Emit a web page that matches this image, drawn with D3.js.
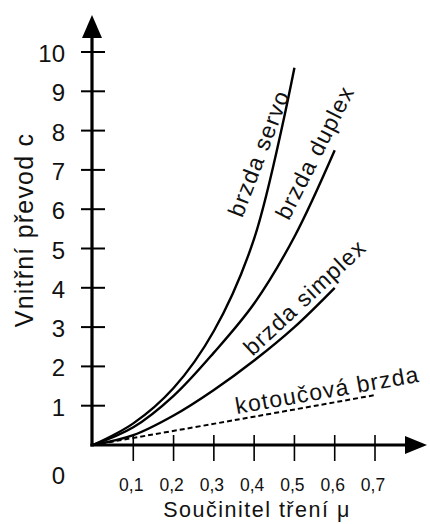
<!DOCTYPE html>
<html>
<head>
<meta charset="utf-8">
<script src="https://cdn.jsdelivr.net/npm/d3@7"></script>
<style>
  body { margin: 0; background: #fff; }
  svg { display: block; font-family: "Liberation Sans", Arial, Helvetica, sans-serif; }
</style>
</head>
<body>
<div id="chart"></div>
<script>
// ----------------------------
// Data
// ----------------------------
const xTicks = [0.1, 0.2, 0.3, 0.4, 0.5, 0.6, 0.7];
const xTickLabels = ["0,1", "0,2", "0,3", "0,4", "0,5", "0,6", "0,7"];
const yTicks = [1, 2, 3, 4, 5, 6, 7, 8, 9, 10];

const servoMu = [0, 0.1, 0.2, 0.3, 0.4, 0.5];
const servoC = [0, 0.55, 1.45, 2.9, 5.25, 9.6];

const duplexMu = [0, 0.1, 0.2, 0.3, 0.4, 0.5, 0.6];
const duplexC = [0, 0.45, 1.25, 2.35, 3.6, 5.3, 7.5];

const simplexMu = [0, 0.1, 0.2, 0.3, 0.4, 0.5, 0.6];
const simplexC = [0, 0.25, 0.75, 1.4, 2.15, 3.0, 4.0];

const discMu = [0, 0.35, 0.7];
const discC = [0, 0.63, 1.27];

const curveNames = ["brzda servo", "brzda duplex", "brzda simplex", "kotoučová brzda"];

// ----------------------------
// Layout
// ----------------------------
const width = 430;
const height = 524;

const x = d3.scaleLinear().domain([0, 0.7]).range([93, 375]);
const y = d3.scaleLinear().domain([0, 10]).range([445, 52]);

const svg = d3.select("#chart").append("svg")
    .attr("width", width)
    .attr("height", height)
    .attr("viewBox", [0, 0, width, height]);

// label placement in data units (baseline centre) and rotation
const labelSpots = [
    { mu: 0.430, c: 7.35, angle: -69 },
    { mu: 0.568, c: 7.35, angle: -63 },
    { mu: 0.539, c: 3.61, angle: -43 },
    { mu: 0.585, c: 1.20, angle: -10 }
];

// ----------------------------
// Curves
// ----------------------------
const line = d3.line()
    .x(d => x(d[0]))
    .y(d => y(d[1]))
    .curve(d3.curveCatmullRom.alpha(0.5));

const series = [
    d3.zip(servoMu, servoC),
    d3.zip(duplexMu, duplexC),
    d3.zip(simplexMu, simplexC),
    d3.zip(discMu, discC)
];

svg.append("g")
    .selectAll("path")
    .data(series)
    .join("path")
        .attr("d", line)
        .attr("fill", "none")
        .attr("stroke", "#000")
        .attr("stroke-width", (d, i) => i === 3 ? 2 : 2.4)
        .attr("stroke-dasharray", (d, i) => i === 3 ? "5,3" : null);

// curve labels
svg.append("g")
    .selectAll("text")
    .data(curveNames)
    .join("text")
        .attr("transform", (d, i) => `translate(${x(labelSpots[i].mu)},${y(labelSpots[i].c)}) rotate(${labelSpots[i].angle})`)
        .attr("text-anchor", "middle")
        .attr("font-size", 23)
        .attr("letter-spacing", 1.2)
        .attr("fill", "#111")
        .text(d => d);

// ----------------------------
// Axes
// ----------------------------
const x0 = x(0) - 1;
const y0 = y(0);

// y axis line + arrow
svg.append("line")
    .attr("x1", x0).attr("x2", x0)
    .attr("y1", y0 + 1.5).attr("y2", 36)
    .attr("stroke", "#000").attr("stroke-width", 3.2);
svg.append("path")
    .attr("d", `M${x0},15 L${x0 - 10},38 L${x0 + 10},38 Z`)
    .attr("fill", "#000");

// x axis line + arrow
svg.append("line")
    .attr("x1", x0 - 1.6).attr("x2", 406)
    .attr("y1", y0).attr("y2", y0)
    .attr("stroke", "#000").attr("stroke-width", 3.2);
svg.append("path")
    .attr("d", `M427,${y0} L405,${y0 - 9} L405,${y0 + 9} Z`)
    .attr("fill", "#000");

// y ticks
svg.append("g")
    .selectAll("line")
    .data(yTicks)
    .join("line")
        .attr("x1", x0 - 11).attr("x2", x0 + 13)
        .attr("y1", d => y(d)).attr("y2", d => y(d))
        .attr("stroke", "#000").attr("stroke-width", 2);

svg.append("g")
    .selectAll("text")
    .data(yTicks)
    .join("text")
        .attr("x", 65)
        .attr("y", d => y(d) + 10)
        .attr("text-anchor", "end")
        .attr("font-size", 24)
        .attr("fill", "#111")
        .text(d => d);

// x ticks
svg.append("g")
    .selectAll("line")
    .data(xTicks)
    .join("line")
        .attr("x1", d => x(d)).attr("x2", d => x(d))
        .attr("y1", y0 - 10).attr("y2", y0 + 16)
        .attr("stroke", "#000").attr("stroke-width", 1.6);

svg.append("g")
    .selectAll("text")
    .data(xTicks)
    .join("text")
        .attr("x", d => x(d) - 2)
        .attr("y", 491)
        .attr("text-anchor", "middle")
        .attr("font-size", 17.5)
        .attr("fill", "#111")
        .text((d, i) => xTickLabels[i]);

// origin label
svg.append("text")
    .attr("x", 65)
    .attr("y", 484)
    .attr("text-anchor", "end")
    .attr("font-size", 24)
    .attr("fill", "#111")
    .text("0");

// axis titles
svg.append("text")
    .attr("x", 257)
    .attr("y", 517)
    .attr("text-anchor", "middle")
    .attr("font-size", 21.5)
    .attr("letter-spacing", 1.5)
    .attr("fill", "#111")
    .text("Součinitel tření μ");

svg.append("text")
    .attr("transform", "translate(33,230) rotate(-90)")
    .attr("text-anchor", "middle")
    .attr("font-size", 25)
    .attr("letter-spacing", 1.2)
    .attr("fill", "#111")
    .text("Vnitřní převod c");
</script>
</body>
</html>
